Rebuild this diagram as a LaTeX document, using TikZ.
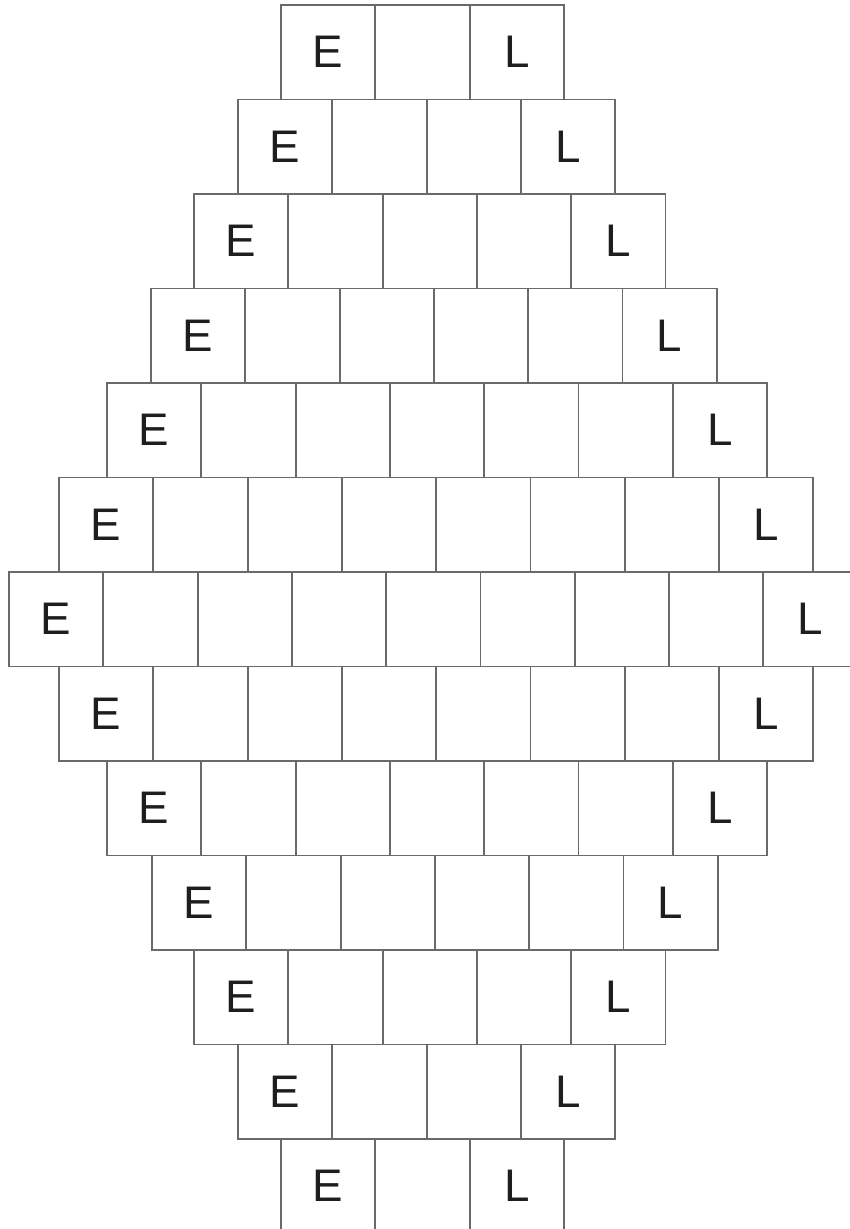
\documentclass[tikz,border=0pt]{standalone}
\usepackage{fontspec}
\setmainfont{Liberation Sans}
\usepackage{tikz}
\usepackage{xcolor}
\definecolor{trait}{HTML}{6A6A6A}
\definecolor{lettre}{HTML}{1E1E1E}

\tikzset{
  case/.style={draw=trait, line width=1.1pt, minimum width=1.886cm, minimum height=1.89cm,
    inner sep=0pt, text=lettre, font=\fontsize{26}{30}\selectfont}
}

\begin{document}
\begin{tikzpicture}
        % Cadre
        \useasboundingbox (0,0) rectangle (17,-24.58);
        \clip (0,0) rectangle (17,-24.58);
        
        % Cases (bord gauche / nombre de cases par ligne)
        \foreach \x/\k [count=\r] in {5.62/3, 4.76/4, 3.88/5, 3.02/6, 2.14/7, 1.18/8, 0.18/9,
                                      1.18/8, 2.14/7, 3.04/6, 3.88/5, 4.76/4, 5.62/3} {
            \foreach \c in {1,...,\k} {
                \node[case] (c\r-\c) at ({\x+0.943+1.886*(\c-1)},{-1.045-1.89*(\r-1)})
                    {\ifnum\c=1 E\else\ifnum\c=\k L\fi\fi};
            }
        }
    \end{tikzpicture}
\end{document}
